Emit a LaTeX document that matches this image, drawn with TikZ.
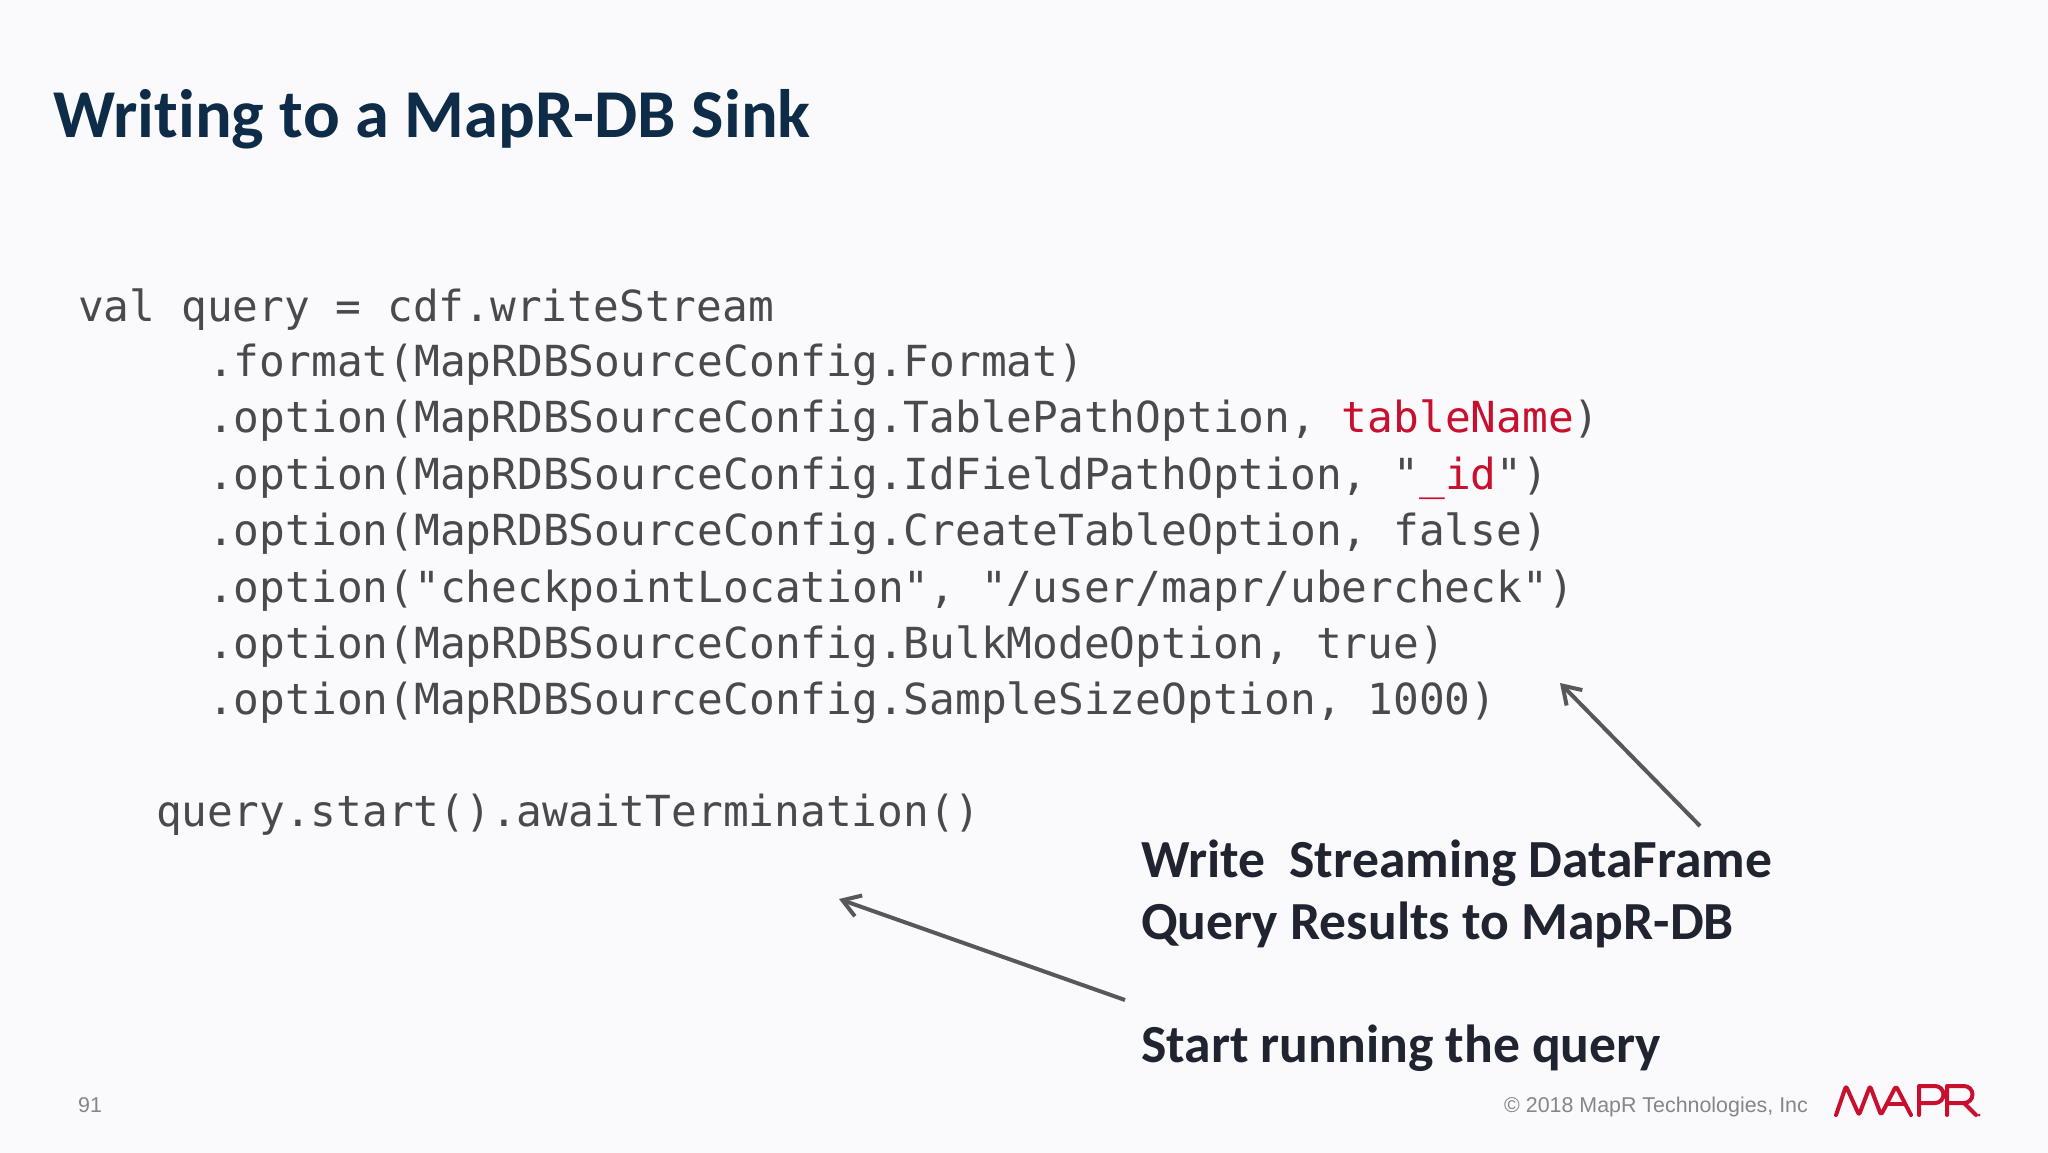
\documentclass[tikz,border=0pt]{standalone}
\usepackage{fontspec}
\usepackage{tikz}
\usetikzlibrary{arrows.meta}
\setmainfont[Ligatures=NoCommon]{Carlito}
\setsansfont{Liberation Sans}
\setmonofont{DejaVu Sans Mono}
\definecolor{slidebg}{HTML}{FAFAFC}
\definecolor{titleblue}{HTML}{0E2B47}
\definecolor{codegray}{HTML}{4A4A4E}
\definecolor{noteblack}{HTML}{1F2430}
\definecolor{mapred}{HTML}{C8102E}
\definecolor{footgray}{HTML}{85858A}
\definecolor{arrowgray}{HTML}{58585C}
\newcommand{\red}[1]{\textcolor{mapred}{#1}}
\tikzset{codeline/.style = {anchor = base west, inner sep = 0, text = codegray,
                            font = \ttfamily\fontsize{42.8}{50}\selectfont}}
\tikzset{note/.style = {anchor = base west, inner sep = 0, text = noteblack,
                        font = \bfseries\fontsize{53.6}{60}\selectfont}}
\tikzset{foot/.style = {anchor = base west, inner sep = 0, text = footgray,
                        font = \sffamily\fontsize{21.4}{25}\selectfont}}
\tikzset{pointer/.style = {draw = arrowgray, line width = 4pt, -{Straight Barb[length=17pt, width=22pt]}}}
\tikzset{logo/.style = {draw = mapred, line width = 4pt, line join = round, line cap = round, rounded corners = 2.5pt}}

\begin{document}
\begin{tikzpicture}[x = 1pt, y = -1pt]
      \useasboundingbox [fill = slidebg] (0, 0) rectangle (2048, 1153);
      \node [anchor = base west, inner sep = 0, text = titleblue, font = \bfseries\fontsize{68.5}{76}\selectfont] (title) at (53, 138) {Writing to a MapR-DB Sink};
      \node [codeline] (line1) at (78, 321) {val query = cdf.writeStream};
      \node [codeline] (line2) at (208, 376) {.format(MapRDBSourceConfig.Format)};
      \node [codeline] (line3) at (208, 432) {.option(MapRDBSourceConfig.TablePathOption, \red{tableName})};
      \node [codeline] (line4) at (208, 489) {.option(MapRDBSourceConfig.IdFieldPathOption, "\red{\_id}")};
      \node [codeline] (line5) at (208, 545) {.option(MapRDBSourceConfig.CreateTableOption, false)};
      \node [codeline] (line6) at (208, 602) {.option("checkpointLocation", "/user/mapr/ubercheck")};
      \node [codeline] (line7) at (208, 658) {.option(MapRDBSourceConfig.BulkModeOption, true)};
      \node [codeline] (line8) at (208, 714) {.option(MapRDBSourceConfig.SampleSizeOption, 1000)};
      \node [codeline] (line9) at (156, 826) {query.start().awaitTermination()};
      \node [note] (write1) at (1141, 877) {Write\ \ Streaming DataFrame};
      \node [note] (write2) at (1141, 939) {Query Results to MapR-DB};
      \node [note] (start) at (1141, 1062) {Start running the query};
      \coordinate (writetail) at (1700, 826);
      \coordinate (writehead) at (1560, 683);
      \coordinate (starttail) at (1125, 1000);
      \coordinate (starthead) at (839, 899);
      \draw [pointer] (writetail) -- (writehead);
      \draw [pointer] (starttail) -- (starthead);
      \node [foot] (pagenum) at (78, 1112) {91};
      \node [foot] (copyright) at (1504, 1112) {© 2018 MapR Technologies, Inc};
      % logo
      \draw [logo] (1836, 1115) -- (1846, 1086) -- (1859, 1115) -- (1870, 1086) -- (1881, 1115) -- (1896, 1086) -- (1911, 1115);
      \draw [logo] (1889, 1104) -- (1904, 1104);
      \draw [logo, rounded corners = 0pt] (1919, 1115) -- (1919, 1086) -- (1935, 1086) arc (-90:90:8.5) -- (1919, 1103);
      \draw [logo, rounded corners = 0pt] (1947, 1115) -- (1947, 1086) -- (1964, 1086) arc (-90:90:8.5) -- (1947, 1103);
      \draw [logo, rounded corners = 0pt] (1964, 1103) -- (1976, 1115);
      \fill [mapred] (1979, 1115) circle [radius = 1.5];
\end{tikzpicture}
\end{document}
